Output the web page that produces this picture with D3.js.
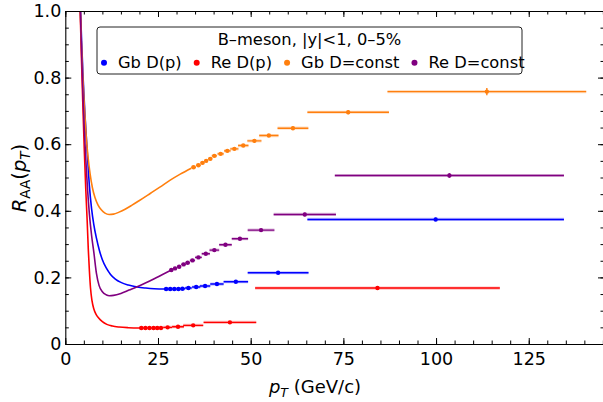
<!DOCTYPE html>
<html>
<head>
<meta charset="utf-8">
<script src="https://cdn.jsdelivr.net/npm/d3@7"></script>
<style>
  body { margin: 0; background: #fff; }
  svg { display: block; font-family: "DejaVu Sans", sans-serif; }
</style>
</head>
<body>
<svg id="chart" width="603" height="402"></svg>
<script>
// ---- series labels and colours ----
const seriesNames  = ["Gb D(p)", "Re D(p)", "Gb D=const", "Re D=const"];
const seriesColors = ["#0000ff", "#ff0000", "#ff7f0e", "#800080"];
const legendTitle  = "B\u2013meson, |y|<1, 0\u20135%";

// ---- model curves at low pT: [pT, R_AA] ----
const curveGbDp = [[4.0,1.04],[4.4,0.91],[4.8,0.80],[5.3,0.69],[5.9,0.58],[6.5,0.475],[7.1,0.405],[7.7,0.358],
  [8.4,0.318],[9.2,0.281],[10.0,0.253],[11.0,0.229],[12.2,0.209],[13.5,0.195],[15.0,0.185],[17.0,0.177],
  [19.4,0.171],[21.7,0.168],[24.0,0.166],[27.2,0.165]];
const curveReDp = [[3.9,1.05],[4.3,0.88],[4.7,0.73],[5.1,0.59],[5.5,0.47],[5.9,0.37],[6.2,0.285],[6.5,0.22],
  [6.8,0.168],[7.2,0.13],[7.7,0.105],[8.3,0.089],[9.0,0.078],[10.0,0.067],[11.2,0.059],[12.7,0.054],
  [14.5,0.051],[17.0,0.049],[20.5,0.048]];
const curveGbConst = [[3.9,1.06],[4.3,0.92],[4.7,0.81],[5.1,0.72],[5.6,0.63],[6.1,0.565],[6.7,0.51],[7.3,0.47],
  [8.0,0.44],[8.8,0.418],[9.7,0.403],[10.7,0.393],[11.8,0.389],[13.0,0.39],[14.5,0.396],[16.0,0.404],
  [18.0,0.417],[20.0,0.431],[22.9,0.452],[25.5,0.471],[28.3,0.492],[31.0,0.51],[34.0,0.528]];
const curveReConst = [[3.9,1.06],[4.3,0.91],[4.7,0.77],[5.1,0.65],[5.5,0.56],[6.0,0.465],[6.5,0.39],[7.1,0.325],
  [7.7,0.275],[8.4,0.212],[9.1,0.176],[10.0,0.157],[11.0,0.148],[11.9,0.145],[13.0,0.146],[15.0,0.152],
  [17.2,0.162],[19.4,0.172],[21.6,0.183],[24.0,0.196],[26.1,0.208],[28.6,0.222]];

// ---- binned points: bin centre, R_AA, half bin width, R_AA uncertainty ----
const ptGbDp   = [27.2,28.3,29.4,30.5,31.6,33.2,35.3,37.7,40.9,46.0,57.4,99.9];
const raaGbDp  = [0.165,0.165,0.165,0.165,0.166,0.168,0.171,0.174,0.180,0.187,0.214,0.374];
const dptGbDp  = [0.55,0.55,0.55,0.55,0.7,0.9,1.1,1.4,1.8,3.3,8.2,34.6];
const draaGbDp = [0.002,0.002,0.002,0.002,0.002,0.002,0.002,0.002,0.002,0.003,0.003,0.005];

const ptReDp   = [20.5,21.6,22.7,23.8,24.8,25.8,27.6,30.4,34.5,44.4,84.2];
const raaReDp  = [0.048,0.048,0.048,0.048,0.048,0.048,0.050,0.052,0.056,0.065,0.168];
const dptReDp  = [0.55,0.55,0.55,0.55,0.5,0.6,1.2,1.6,2.7,7.1,33.0];
const draaReDp = [0.002,0.002,0.002,0.002,0.002,0.002,0.002,0.002,0.002,0.003,0.004];

const ptGbConst   = [34.6,35.9,37.0,38.0,39.1,40.2,41.9,43.7,45.6,48.0,51.0,54.9,61.4,76.3,113.7];
const raaGbConst  = [0.531,0.537,0.544,0.550,0.556,0.565,0.571,0.580,0.586,0.596,0.610,0.626,0.648,0.696,0.758];
const dptGbConst  = [0.6,0.6,0.55,0.5,0.55,0.7,0.85,0.9,1.1,1.4,1.9,2.6,4.15,11.0,26.8];
const draaGbConst = [0.003,0.003,0.003,0.003,0.003,0.003,0.003,0.003,0.003,0.004,0.004,0.004,0.005,0.006,0.011];

const ptReConst   = [28.6,29.6,30.7,31.9,33.0,34.3,35.9,37.9,40.2,43.2,47.1,52.8,64.6,103.6];
const raaReConst  = [0.222,0.227,0.232,0.239,0.244,0.251,0.260,0.271,0.282,0.298,0.316,0.342,0.389,0.506];
const dptReConst  = [0.5,0.5,0.55,0.6,0.6,0.7,0.9,1.1,1.3,1.7,2.2,3.6,8.4,30.9];
const draaReConst = [0.002,0.002,0.002,0.002,0.002,0.002,0.002,0.002,0.003,0.003,0.003,0.004,0.005,0.007];

// ---- axis ticks ----
const xTicks = [0, 25, 50, 75, 100, 125];
const xTickLabels = ["0", "25", "50", "75", "100", "125"];
const yTicks = [0, 0.2, 0.4, 0.6, 0.8, 1.0];
const yTickLabels = ["0", "0.2", "0.4", "0.6", "0.8", "1.0"];
const xMinor = d3.range(0, 146, 5);
const yMinor = d3.range(0, 1.001, 0.05);

// ---- assemble series ----
function zipPoints(pt, raa, dpt, draa) {
  return pt.map((p, i) => ({ pt: p, raa: raa[i], dpt: dpt[i], draa: draa[i] }));
}
const series = [
  { curve: curveGbDp,    points: zipPoints(ptGbDp, raaGbDp, dptGbDp, draaGbDp) },
  { curve: curveReDp,    points: zipPoints(ptReDp, raaReDp, dptReDp, draaReDp) },
  { curve: curveGbConst, points: zipPoints(ptGbConst, raaGbConst, dptGbConst, draaGbConst) },
  { curve: curveReConst, points: zipPoints(ptReConst, raaReConst, dptReConst, draaReConst) }
].map((s, i) => ({ ...s, name: seriesNames[i], color: seriesColors[i] }));

// ---- layout (right spine sits just past the canvas edge) ----
const plot = { left: 65.3, right: 604, top: 11, bottom: 344 };
const x = d3.scaleLinear().domain([0, 145.3]).range([plot.left, plot.right]);
const y = d3.scaleLinear().domain([0, 1]).range([plot.bottom, plot.top]);

const svg = d3.select("#chart");

svg.append("defs").append("clipPath").attr("id", "plotClip")
  .append("rect")
  .attr("x", plot.left).attr("y", plot.top)
  .attr("width", plot.right - plot.left).attr("height", plot.bottom - plot.top);

const dataLayer = svg.append("g").attr("clip-path", "url(#plotClip)");

const line = d3.line()
  .x(d => x(d[0])).y(d => y(d[1]))
  .curve(d3.curveMonotoneX);

series.forEach(s => {
  const g = dataLayer.append("g");
  g.append("path")
    .datum(s.curve)
    .attr("d", line)
    .attr("fill", "none")
    .attr("stroke", s.color)
    .attr("stroke-width", 1.6);

  const pts = g.selectAll("g.pt").data(s.points).join("g").attr("class", "pt");
  // soft halo under the bin-width bars
  pts.append("line")
    .attr("x1", d => x(d.pt - d.dpt)).attr("x2", d => x(d.pt + d.dpt))
    .attr("y1", d => y(d.raa)).attr("y2", d => y(d.raa))
    .attr("stroke", s.color).attr("stroke-opacity", 0.25).attr("stroke-width", 3.2);
  pts.append("line")
    .attr("x1", d => x(d.pt - d.dpt)).attr("x2", d => x(d.pt + d.dpt))
    .attr("y1", d => y(d.raa)).attr("y2", d => y(d.raa))
    .attr("stroke", s.color).attr("stroke-width", 1.4);
  pts.append("line")
    .attr("x1", d => x(d.pt)).attr("x2", d => x(d.pt))
    .attr("y1", d => y(d.raa - d.draa)).attr("y2", d => y(d.raa + d.draa))
    .attr("stroke", s.color).attr("stroke-width", 1.4);
  pts.append("circle")
    .attr("cx", d => x(d.pt)).attr("cy", d => y(d.raa))
    .attr("r", 2.2).attr("fill", s.color);
});

// ---- axes (ticks pointing inward on all four sides) ----
const tickFont = "17.5px";
function styleAxis(g) {
  g.selectAll(".domain").attr("stroke", "#000").attr("stroke-width", 1.1);
  g.selectAll(".tick line").attr("stroke", "#000").attr("stroke-width", 1);
  g.selectAll("text").attr("font-size", tickFont).attr("font-family", "DejaVu Sans").attr("fill", "#000");
}

svg.append("g").attr("transform", `translate(0,${plot.bottom})`)
  .call(d3.axisBottom(x).tickValues(xMinor).tickSizeInner(-3.5).tickSizeOuter(0).tickFormat(""))
  .call(g => g.select(".domain").remove()).call(styleAxis);
svg.append("g").attr("transform", `translate(0,${plot.top})`)
  .call(d3.axisTop(x).tickValues(xMinor).tickSizeInner(-3.5).tickSizeOuter(0).tickFormat(""))
  .call(g => g.select(".domain").remove()).call(styleAxis);
svg.append("g").attr("transform", `translate(${plot.left},0)`)
  .call(d3.axisLeft(y).tickValues(yMinor).tickSizeInner(-3.5).tickSizeOuter(0).tickFormat(""))
  .call(g => g.select(".domain").remove()).call(styleAxis);
svg.append("g").attr("transform", `translate(${plot.right},0)`)
  .call(d3.axisRight(y).tickValues(yMinor).tickSizeInner(-3.5).tickSizeOuter(0).tickFormat(""))
  .call(g => g.select(".domain").remove()).call(styleAxis);

svg.append("g").attr("transform", `translate(0,${plot.bottom})`)
  .call(d3.axisBottom(x).tickValues(xTicks).tickSizeInner(-6).tickSizeOuter(0).tickPadding(8.5)
    .tickFormat((d, i) => xTickLabels[i]))
  .call(styleAxis);
svg.append("g").attr("transform", `translate(0,${plot.top})`)
  .call(d3.axisTop(x).tickValues(xTicks).tickSizeInner(-6).tickSizeOuter(0).tickFormat(""))
  .call(styleAxis);
svg.append("g").attr("transform", `translate(${plot.left},0)`)
  .call(d3.axisLeft(y).tickValues(yTicks).tickSizeInner(-6).tickSizeOuter(0).tickPadding(4)
    .tickFormat((d, i) => yTickLabels[i]))
  .call(styleAxis);
svg.append("g").attr("transform", `translate(${plot.right},0)`)
  .call(d3.axisRight(y).tickValues(yTicks).tickSizeInner(-6).tickSizeOuter(0).tickFormat(""))
  .call(styleAxis);

// ---- axis titles ----
const xTitle = svg.append("text")
  .attr("x", 315).attr("y", 393)
  .attr("text-anchor", "middle").attr("font-size", "18px").attr("fill", "#000");
xTitle.append("tspan").attr("font-style", "italic").text("p");
xTitle.append("tspan").attr("font-style", "italic").attr("font-size", "12.6px").attr("dy", 4).text("T");
xTitle.append("tspan").attr("dy", -4).text(" (GeV/c)");

const yTitle = svg.append("text")
  .attr("transform", "translate(25.5,178) rotate(-90)")
  .attr("text-anchor", "middle").attr("font-size", "19.5px").attr("fill", "#000");
yTitle.append("tspan").attr("font-style", "italic").text("R");
yTitle.append("tspan").attr("font-size", "13.6px").attr("dy", 4).text("AA");
yTitle.append("tspan").attr("dy", -4).text("(");
yTitle.append("tspan").attr("font-style", "italic").text("p");
yTitle.append("tspan").attr("font-style", "italic").attr("font-size", "13.6px").attr("dy", 4).text("T");
yTitle.append("tspan").attr("dy", -4).text(")");

// ---- legend ----
const legend = svg.append("g");
legend.append("rect")
  .attr("x", 97).attr("y", 27).attr("width", 425).attr("height", 47).attr("rx", 3)
  .attr("fill", "#fff").attr("stroke", "#222").attr("stroke-width", 1);
legend.append("text")
  .attr("x", 309.5).attr("y", 44.6).attr("text-anchor", "middle")
  .attr("font-size", "16.3px").attr("fill", "#000").text(legendTitle);

let cursor = 104;
series.forEach(s => {
  legend.append("circle").attr("cx", cursor).attr("cy", 62.7).attr("r", 3).attr("fill", s.color);
  const t = legend.append("text")
    .attr("x", cursor + 14).attr("y", 67.6)
    .attr("font-size", "16.3px").attr("fill", "#000").text(s.name);
  cursor += 14 + t.node().getComputedTextLength() + 15;
});
</script>
</body>
</html>
